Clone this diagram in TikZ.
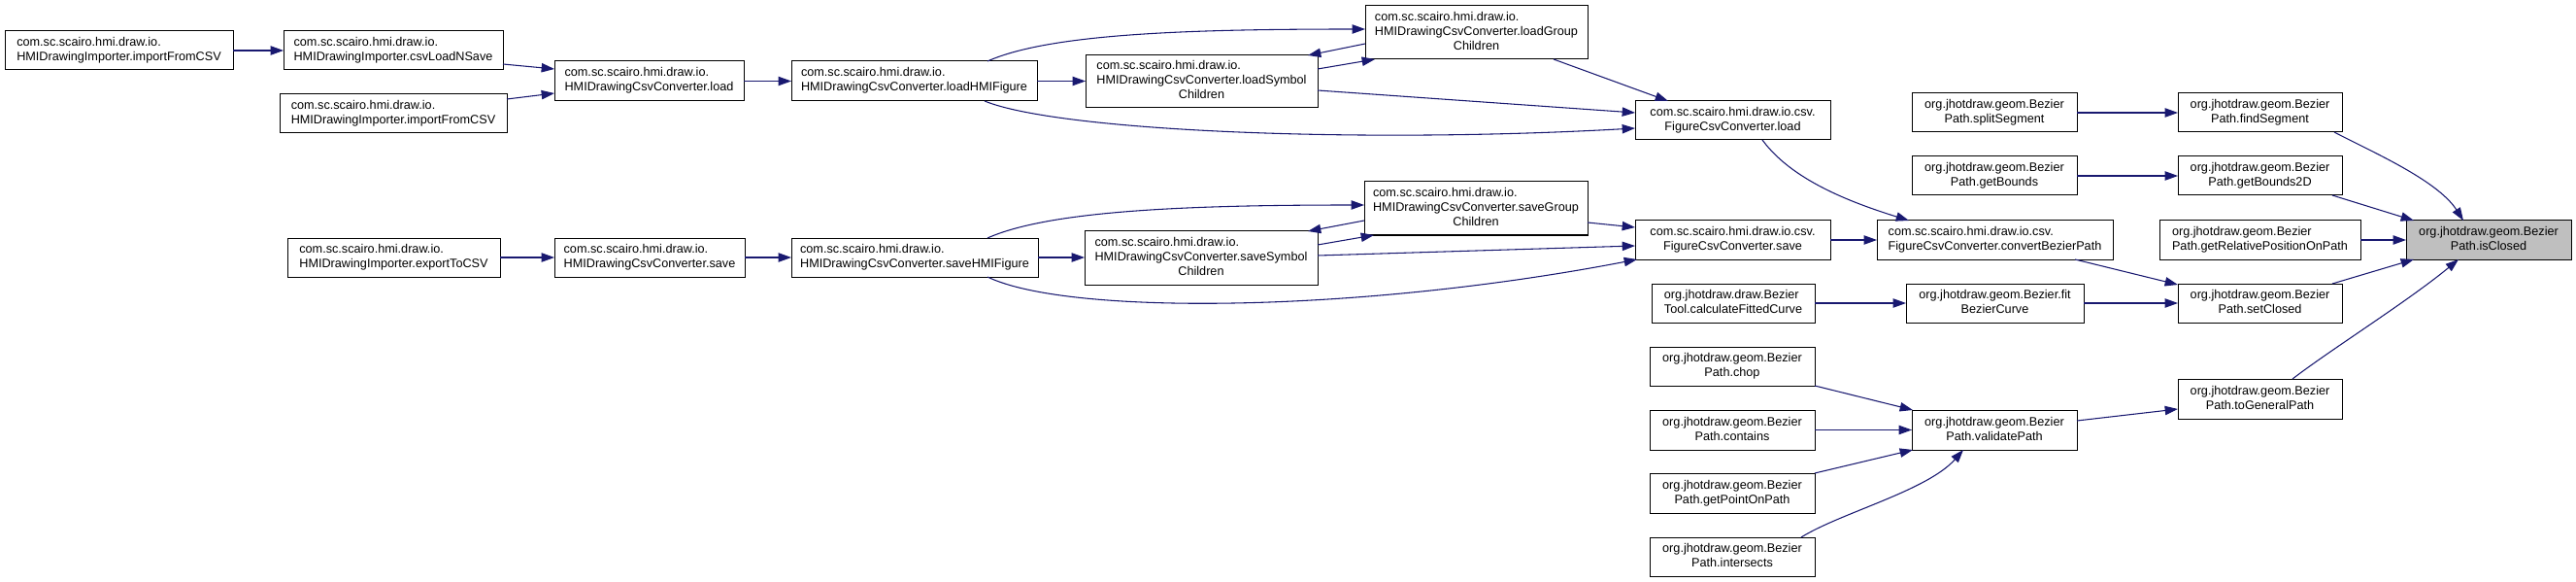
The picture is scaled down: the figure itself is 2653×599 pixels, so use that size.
\documentclass[tikz,border=0pt]{standalone}
\usepackage{fontspec}
\setmainfont{Liberation Sans}
\usetikzlibrary{arrows.meta,calc}
\definecolor{edgeblue}{HTML}{191970}
\definecolor{hilite}{HTML}{BFBFBF}
\newcommand\lbltwo[2]{\begin{tabular}{@{}l@{}}#1\\\multicolumn{1}{@{}c@{}}{#2}\end{tabular}}
\newcommand\lblthree[3]{\begin{tabular}{@{}l@{}}#1\\#2\\\multicolumn{1}{@{}c@{}}{#3}\end{tabular}}
\newcommand\bx[7][]{\node[box,#1,minimum width={(#5-#3)*0.75pt},minimum height={(#6-#4)*0.75pt}] (#2) at ({(#3+#5)/2},{(#4+#6)/2}) {#7};}
\tikzset{
  box/.style={draw=black,line width=0.75pt,fill=white,inner sep=0pt,outer sep=0pt,rectangle,
    font=\fontsize{9.5pt}{11.25pt}\selectfont},
  edge/.style={draw=edgeblue,line width=0.8pt,-{Triangle[length=10pt,width=7pt]}}
}
\begin{document}
\begin{tikzpicture}[x=0.75pt,y=-0.75pt]
\useasboundingbox (0,0) rectangle (2653,599);
% left part
\bx{n1}{5}{32}{240}{72}{\lbltwo{com.sc.scairo.hmi.draw.io.}{HMIDrawingImporter.importFromCSV}}
\bx{n2}{292}{32}{518}{72}{\lbltwo{com.sc.scairo.hmi.draw.io.}{HMIDrawingImporter.csvLoadNSave}}
\bx{n3}{288}{97}{522}{137}{\lbltwo{com.sc.scairo.hmi.draw.io.}{HMIDrawingImporter.importFromCSV}}
\bx{n4}{571}{63}{766}{104}{\lbltwo{com.sc.scairo.hmi.draw.io.}{HMIDrawingCsvConverter.load}}
\bx{n5}{815}{63}{1068}{104}{\lbltwo{com.sc.scairo.hmi.draw.io.}{HMIDrawingCsvConverter.loadHMIFigure}}
\bx{n6}{1118}{57}{1357}{111}{\lblthree{com.sc.scairo.hmi.draw.io.}{HMIDrawingCsvConverter.loadSymbol}{Children}}
\bx{n7}{1406}{6}{1635}{61}{\lblthree{com.sc.scairo.hmi.draw.io.}{HMIDrawingCsvConverter.loadGroup}{Children}}
\bx{n8}{1684}{104}{1885}{144}{\lbltwo{com.sc.scairo.hmi.draw.io.csv.}{FigureCsvConverter.load}}
\bx{n9}{296}{245}{515}{285}{\lbltwo{com.sc.scairo.hmi.draw.io.}{HMIDrawingImporter.exportToCSV}}
\bx{n10}{571}{245}{767}{285}{\lbltwo{com.sc.scairo.hmi.draw.io.}{HMIDrawingCsvConverter.save}}
\bx{n11}{815}{245}{1069}{285}{\lbltwo{com.sc.scairo.hmi.draw.io.}{HMIDrawingCsvConverter.saveHMIFigure}}
\bx{n12}{1117}{238}{1357}{293}{\lblthree{com.sc.scairo.hmi.draw.io.}{HMIDrawingCsvConverter.saveSymbol}{Children}}
\bx{n13}{1405}{187}{1635}{242}{\lblthree{com.sc.scairo.hmi.draw.io.}{HMIDrawingCsvConverter.saveGroup}{Children}}
\bx{n14}{1684}{227}{1885}{267}{\lbltwo{com.sc.scairo.hmi.draw.io.csv.}{FigureCsvConverter.save}}
\bx{n15}{1933}{227}{2176}{267}{\lbltwo{com.sc.scairo.hmi.draw.io.csv.}{FigureCsvConverter.convertBezierPath}}
% right part
\bx{n16}{1969}{96}{2139}{136}{\lbltwo{org.jhotdraw.geom.Bezier}{Path.splitSegment}}
\bx{n17}{1969}{161}{2139}{201}{\lbltwo{org.jhotdraw.geom.Bezier}{Path.getBounds}}
\bx{n18}{2243}{96}{2412}{136}{\lbltwo{org.jhotdraw.geom.Bezier}{Path.findSegment}}
\bx{n19}{2243}{161}{2412}{201}{\lbltwo{org.jhotdraw.geom.Bezier}{Path.getBounds2D}}
\bx{n20}{2224}{227}{2431}{267}{\lbltwo{org.jhotdraw.geom.Bezier}{Path.getRelativePositionOnPath}}
\bx[fill=hilite]{n21}{2478}{227}{2648}{267}{\lbltwo{org.jhotdraw.geom.Bezier}{Path.isClosed}}
\bx{n22}{1701}{292}{1869}{332}{\lbltwo{org.jhotdraw.draw.Bezier}{Tool.calculateFittedCurve}}
\bx{n23}{1963}{292}{2146}{332}{\lbltwo{org.jhotdraw.geom.Bezier.fit}{BezierCurve}}
\bx{n24}{2243}{292}{2412}{332}{\lbltwo{org.jhotdraw.geom.Bezier}{Path.setClosed}}
\bx{n25}{1699}{357}{1869}{397}{\lbltwo{org.jhotdraw.geom.Bezier}{Path.chop}}
\bx{n26}{1699}{422}{1869}{463}{\lbltwo{org.jhotdraw.geom.Bezier}{Path.contains}}
\bx{n27}{1699}{487}{1869}{528}{\lbltwo{org.jhotdraw.geom.Bezier}{Path.getPointOnPath}}
\bx{n28}{1699}{553}{1869}{593}{\lbltwo{org.jhotdraw.geom.Bezier}{Path.intersects}}
\bx{n29}{1969}{422}{2139}{463}{\lbltwo{org.jhotdraw.geom.Bezier}{Path.validatePath}}
\bx{n30}{2243}{390}{2412}{431}{\lbltwo{org.jhotdraw.geom.Bezier}{Path.toGeneralPath}}
% edges: load chain
\draw[edge] (n1.east) -- (n2.west);
\draw[edge] ($(n2.north east)+(0,34)$) -- ($(n4.north west)+(0,8)$);
\draw[edge] ($(n3.north east)+(0,5)$) -- ($(n4.north west)+(0,33)$);
\draw[edge] (n4.east) -- (n5.west);
\draw[edge] (n5.east) -- (n6.west |- n5.east);
\draw[edge] ($(n5.north west)+(202,0)$) .. controls (1080,35) and (1220,30) .. ($(n7.north west)+(0,24)$);
\draw[edge] ($(n6.north east)+(0,14)$) -- ($(n7.south west)+(10,0)$);
\draw[edge] ($(n7.north west)+(0,39)$) -- ($(n6.north east)+(-10,0)$);
\draw[edge] ($(n7.south west)+(194,0)$) -- ($(n8.north west)+(34,0)$);
\draw[edge] ($(n6.north east)+(0,36)$) -- ($(n8.north west)+(0,12)$);
\draw[edge] ($(n5.south west)+(199,0)$) .. controls (1090,135) and (1400,148) .. ($(n8.north west)+(0,28)$);
% save chain
\draw[edge] (n9.east) -- (n10.west);
\draw[edge] (n10.east) -- (n11.west);
\draw[edge] (n11.east) -- (n12.west |- n11.east);
\draw[edge] ($(n11.north west)+(202,0)$) .. controls (1080,217) and (1220,211) .. ($(n13.north west)+(0,24)$);
\draw[edge] ($(n12.north east)+(0,14)$) -- ($(n13.south west)+(10,0)$);
\draw[edge] ($(n13.north west)+(0,40)$) -- ($(n12.north east)+(-10,0)$);
\draw[edge] ($(n13.north east)+(0,42)$) -- ($(n14.north west)+(0,7)$);
\draw[edge] ($(n12.north east)+(0,25)$) -- ($(n14.north west)+(0,26)$);
\draw[edge] ($(n11.south west)+(202,0)$) .. controls (1100,325) and (1400,322) .. ($(n14.south west)+(2,0)$);
% converter
\draw[edge] ($(n8.south west)+(131,0)$) .. controls (1845,185) and (1905,208) .. ($(n15.north west)+(33,0)$);
\draw[edge] (n14.east) -- (n15.west);
\draw[edge] ($(n15.south west)+(204,0)$) -- ($(n24.north west)+(0,1)$);
% isClosed callers
\draw[edge] (n16.east) -- (n18.west);
\draw[edge] (n17.east) -- (n19.west);
\draw[edge] ($(n18.south west)+(161,0)$) .. controls (2440,155) and (2510,185) .. ($(n21.north west)+(59,0)$);
\draw[edge] ($(n19.south west)+(159,0)$) -- ($(n21.north west)+(8,0)$);
\draw[edge] (n20.east) -- (n21.west);
\draw[edge] ($(n24.north west)+(159,0)$) -- ($(n21.south west)+(8,0)$);
\draw[edge] ($(n30.north west)+(118,0)$) .. controls (2400,360) and (2480,310) .. ($(n21.south west)+(54,0)$);
\draw[edge] (n22.east) -- (n23.west);
\draw[edge] (n23.east) -- (n24.west);
% validatePath
\draw[edge] (n25.south east) -- ($(n29.north west)+(1,0)$);
\draw[edge] (n26.east) -- (n29.west);
\draw[edge] (n27.north east) -- ($(n29.south west)+(1,0)$);
\draw[edge] ($(n28.north west)+(156,0)$) .. controls (1895,528) and (1985,505) .. ($(n29.south west)+(53,0)$);
\draw[edge] ($(n29.north east)+(0,11)$) -- ($(n30.north west)+(0,31)$);
\end{tikzpicture}
\end{document}
